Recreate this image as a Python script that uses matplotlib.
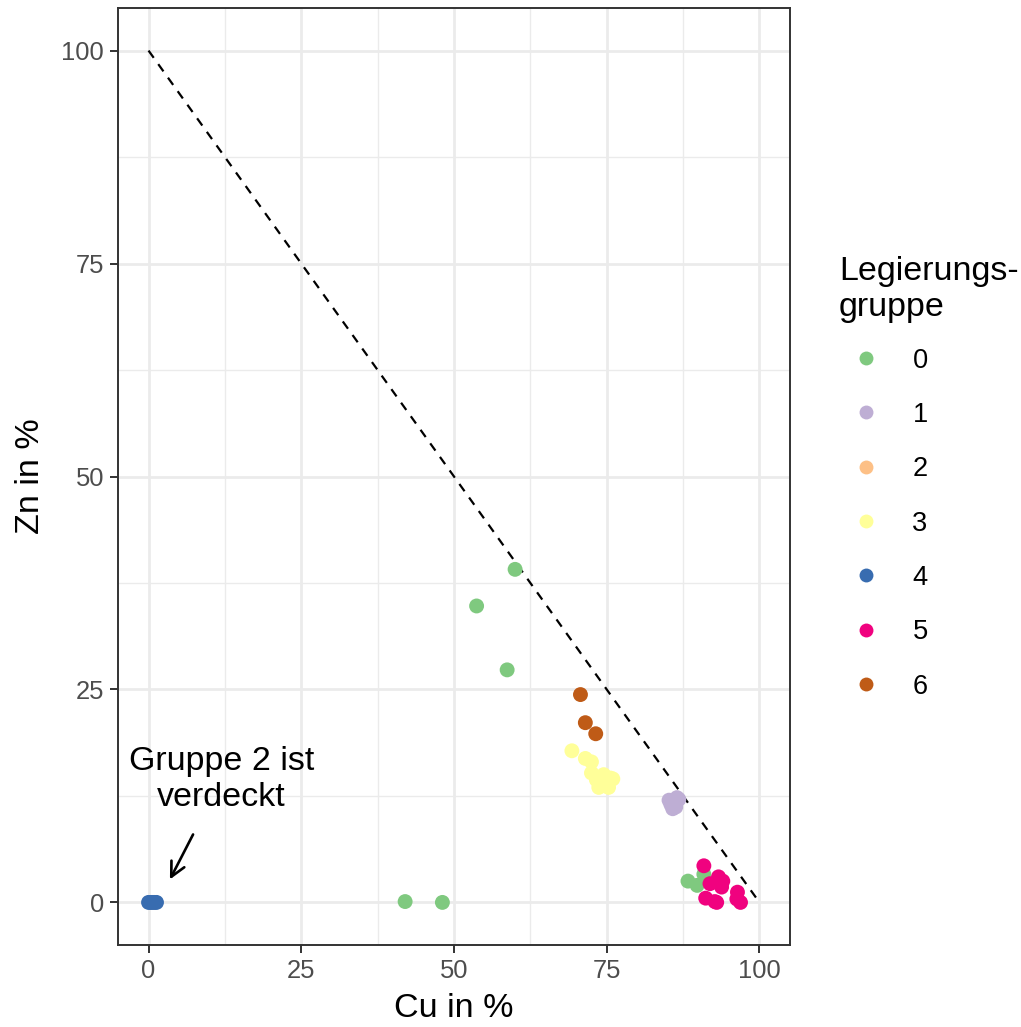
import matplotlib
matplotlib.use("Agg")
import matplotlib.pyplot as plt
from matplotlib.lines import Line2D

plt.rcParams['font.family'] = ['Liberation Sans', 'DejaVu Sans']

groups = ["0", "1", "2", "3", "4", "5", "6"]
colors = ["#7FC97F", "#BEAED4", "#FDC086", "#FFFF99", "#386CB0", "#F0027F", "#BF5B17"]

cu = {
    "0": [42.0, 48.1, 53.7, 58.7, 60.0, 88.3, 89.8, 90.9],
    "1": [85.5, 86.0, 86.5, 85.8, 86.3, 85.2, 86.8],
    "2": [0.5, 0.8],
    "3": [69.3, 71.5, 72.5, 72.5, 73.3, 75.6, 73.7, 75.3, 74.5, 76.0, 74.0],
    "4": [0.0, 0.3, 0.6, 1.0, 1.3],
    "5": [90.9, 93.3, 91.9, 93.8, 91.2, 92.7, 93.0, 96.4, 96.9, 96.3, 94.0],
    "6": [70.7, 71.5, 73.2],
}
zn = {
    "0": [0.1, 0.0, 34.8, 27.3, 39.1, 2.5, 2.0, 3.3],
    "1": [11.5, 12.0, 12.3, 11.0, 11.2, 12.0, 12.1],
    "2": [0.0, 0.0],
    "3": [17.8, 16.9, 16.5, 15.2, 14.4, 14.6, 13.5, 13.5, 15.0, 14.5, 14.0],
    "4": [0.0, 0.0, 0.0, 0.0, 0.0],
    "5": [4.3, 3.0, 2.2, 1.8, 0.5, 0.1, 0.0, 1.2, 0.0, 0.4, 2.5],
    "6": [24.4, 21.1, 19.8],
}

ref_cu = [0, 100]
ref_zn = [100, 0]

fig = plt.figure(figsize=(10.21, 10.27), dpi=100)
W, H = 1021, 1027
ax = fig.add_axes([118 / W, 1 - 945 / H, (790 - 118) / W, (945 - 8) / H])

ax.set_xlim(-5, 105)
ax.set_ylim(-5, 105)
ax.set_xticks([0, 25, 50, 75, 100])
ax.set_yticks([0, 25, 50, 75, 100])
ax.set_xticks([12.5, 37.5, 62.5, 87.5], minor=True)
ax.set_yticks([12.5, 37.5, 62.5, 87.5], minor=True)
ax.grid(which='major', color='#EBEBEB', linewidth=2.0, zorder=0)
ax.grid(which='minor', color='#EBEBEB', linewidth=1.0, zorder=0)
ax.set_axisbelow(True)
for s in ax.spines.values():
    s.set_color('#333333')
    s.set_linewidth(1.4)
ax.tick_params(which='major', direction='out', length=6, width=1.4, color='#333333',
               labelsize=18.4, labelcolor='#4D4D4D', pad=4)
ax.tick_params(which='minor', length=0)

ax.plot(ref_cu, ref_zn, linestyle=(0, (4, 3.5)), color='black', linewidth=1.6, zorder=1)

handles = []
for g, c in zip(groups, colors):
    ax.scatter(cu[g], zn[g], s=115, color=c, edgecolors='none', zorder=2)
    handles.append(Line2D([], [], marker='o', linestyle='none', markersize=10,
                          markerfacecolor=c, markeredgecolor='none', label=g))

ax.set_xlabel("Cu in %", fontsize=24.5, labelpad=7)
ax.set_ylabel("Zn in %", fontsize=24.5, labelpad=11)

ax.annotate("Gruppe 2 ist\nverdeckt", xy=(3.5, 2.7), xytext=(11.9, 14.4),
            ha='center', va='center', fontsize=24.5, linespacing=1.2,
            arrowprops=dict(arrowstyle='->', color='black', lw=1.9,
                            shrinkA=15, shrinkB=0, mutation_scale=26))

leg = fig.legend(handles=handles, title="Legierungs-\ngruppe", loc='upper left',
                 bbox_to_anchor=(828 / W, 1 - 245 / H), frameon=False,
                 fontsize=19.6, title_fontsize=24.5, labelspacing=1.04,
                 handletextpad=0.7, borderaxespad=0, alignment='left')
leg._legend_box.sep = 18

fig.savefig("out.png", dpi=100)
